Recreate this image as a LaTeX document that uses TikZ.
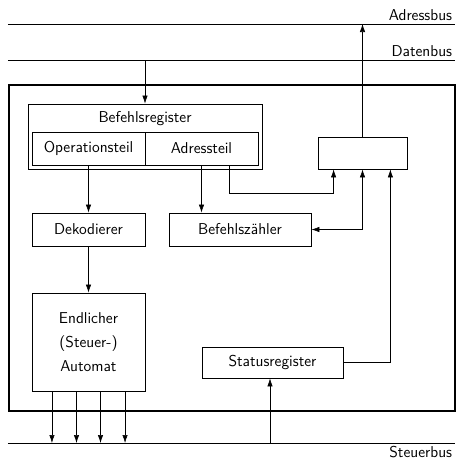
\documentclass[tikz,border=0pt]{standalone}
\usetikzlibrary{arrows.meta}

\begin{document}
\begin{tikzpicture}[
    x=0.75pt, y=-0.75pt,
    box/.style={draw, rectangle, inner sep=0pt, line width=0.6pt},
    bus/.style={line width=0.6pt},
    >={Latex[length=6pt, width=4pt]},
    font=\sffamily\fontsize{11.8pt}{14pt}\selectfont
]
    \useasboundingbox (0,0) rectangle (462,461);

    % Busleitungen
    \coordinate (abL) at (8,24);   \coordinate (abR) at (455,24);
    \coordinate (dbL) at (8,60);   \coordinate (dbR) at (455,60);
    \coordinate (sbL) at (8,443);  \coordinate (sbR) at (455,443);
    \draw[bus] (abL) -- (abR);
    \draw[bus] (dbL) -- (dbR);
    \draw[bus] (sbL) -- (sbR);
    \node[anchor=south east, inner sep=2pt] (ablabel) at (abR) {Adressbus};
    \node[anchor=south east, inner sep=2pt] (dblabel) at (dbR) {Datenbus};
    \node[anchor=north east, inner sep=2pt] (sblabel) at (sbR) {Steuerbus};

    % Prozessorrahmen
    \draw[line width=1.8pt] (9,85) rectangle (455,411);

    % Bausteine
    \node[box, minimum width=175.5pt, minimum height=48.75pt] (befreg) at (145,136.5) {};
    \node (befregtxt) at (145,119) {Befehlsregister};
    \node[box, minimum width=84.75pt, minimum height=24.75pt] (op)  at (88.5,148.5) {Operationsteil};
    \node[box, minimum width=84.75pt, minimum height=24.75pt] (adr) at (201.5,148.5) {Adressteil};
    \node[box, minimum width=66.75pt, minimum height=24pt]    (adrreg) at (362.5,153) {};
    \node[box, minimum width=84.75pt, minimum height=24.75pt] (dek) at (88.5,229.5) {Dekodierer};
    \node[box, minimum width=106.5pt, minimum height=24.75pt] (bz)  at (240,229.5) {Befehlsz\"ahler};
    \node[box, minimum width=84.75pt, minimum height=73.5pt, align=center] (endl) at (88.5,342)
        {Endlicher\\[4pt](Steuer-)\\[4pt]Automat};
    \node[box, minimum width=105.75pt, minimum height=23.25pt] (status) at (272.5,362.5) {Statusregister};

    % Eingaenge des Adressregisters
    \coordinate (in1) at ([xshift=12pt]adrreg.south west);
    \coordinate (in2) at (adrreg.south);
    \coordinate (in3) at ([xshift=-12.75pt]adrreg.south east);

    % Verbindungen
    \draw[->] (befreg.north |- dbL) -- (befreg.north);
    \draw[->] (adrreg.north) -- (adrreg.north |- abL);
    \draw[->] (op.south) -- (dek.north);
    \draw[->] (adr.south) -- (adr.south |- bz.north);
    \draw[->] ([xshift=-21.75pt]adr.south east) -- ++(0,28) -| (in1);
    \draw[<->] (bz.east) -| (in2);
    \draw[->] (status.east) -| (in3);
    \draw[->] (dek.south) -- (endl.north);
    \draw[->] (270,443) -- (270,443 |- status.south);

    % Steuersignale
    \foreach \dx in {-27.4,-9,9,27.4}
        \draw[->] ([xshift=\dx pt]endl.south) -- ([xshift=\dx pt]endl.south |- sbL);

\end{tikzpicture}
\end{document}
